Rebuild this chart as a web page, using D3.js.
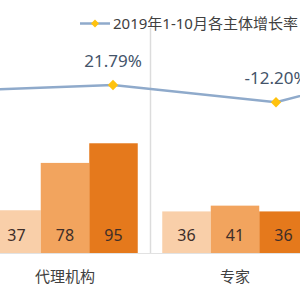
<!DOCTYPE html>
<html><head><meta charset="utf-8">
<script src="https://cdn.jsdelivr.net/npm/d3@7"></script>
<style>html,body{margin:0;padding:0;background:#fff;overflow:hidden}svg{display:block}</style>
</head><body>
<script>
// Data
const categories = ["采购人", "代理机构", "专家", "供应商"];
const series = ["2017年1-10月", "2018年1-10月", "2019年1-10月"];
const barValues = {
  "代理机构": [37, 78, 95],
  "专家": [36, 41, 36]
};
const growthRates = [9.6, 21.79, -12.20, 71.8];
const growthLabels = ["", "21.79%", "-12.20%", ""];
const legendLabel = "2019年1-10月各主体增长率";
const barColors = ["#F9CFA9", "#F2A45E", "#E5791C"];

const W = 300, H = 300;
const svg = d3.select("body").append("svg").attr("width", W).attr("height", H);
const font = "'Noto Sans','Noto Sans CJK SC',sans-serif";

const x = d3.scaleBand().domain(categories).range([-190, 490]).padding(0);
const x1 = d3.scaleBand().domain(series).range([12.25, x.bandwidth() - 12.25]).padding(0);
const y = d3.scaleLinear().domain([0, 100]).range([253, 137.5]);
const xL = d3.scalePoint().domain(categories).range([-50, 439]);
const yL = d3.scaleLinear().domain([-50, 100]).range([121.55, 45.2]);

// separator
svg.append("line").attr("x1", 150.5).attr("x2", 150.5).attr("y1", 28).attr("y2", 253)
  .attr("stroke", "#dcdcdc").attr("stroke-width", 1.5);
// baseline
svg.append("line").attr("x1", 0).attr("x2", W).attr("y1", 253.5).attr("y2", 253.5)
  .attr("stroke", "#e2e2e2").attr("stroke-width", 1);

// bars
const groups = svg.selectAll("g.grp").data(Object.keys(barValues)).join("g")
  .attr("transform", c => `translate(${x(c)},0)`);
groups.selectAll("rect").data(c => barValues[c].map((v, i) => ({ s: series[i], v, i })))
  .join("rect")
  .attr("x", d => x1(d.s)).attr("width", x1.bandwidth())
  .attr("y", d => y(d.v)).attr("height", d => y(0) - y(d.v))
  .attr("fill", d => barColors[d.i]);
groups.selectAll("text").data(c => barValues[c].map((v, i) => ({ s: series[i], v, i })))
  .join("text")
  .attr("x", d => x1(d.s) + x1.bandwidth() / 2).attr("y", 240.7)
  .attr("text-anchor", "middle").attr("font-family", font).attr("font-size", 16)
  .attr("fill", "#3e2e28").text(d => d.v);

// category labels
svg.selectAll("text.cat").data(Object.keys(barValues)).join("text").attr("class", "cat")
  .attr("x", c => x(c) + x.bandwidth() / 2).attr("y", 282)
  .attr("text-anchor", "middle").attr("font-family", font).attr("font-size", 15)
  .attr("fill", "#404040").text(c => c);

// line
const pts = categories.map((c, i) => ({ c, v: growthRates[i], l: growthLabels[i] }));
svg.append("path").datum(pts)
  .attr("d", d3.line().x(d => xL(d.c)).y(d => yL(d.v)))
  .attr("fill", "none").attr("stroke", "#8FAACB").attr("stroke-width", 2.5);
const diamond = (r) => `M0,${-r}L${r},0L0,${r}L${-r},0Z`;
svg.selectAll("path.pt").data(pts).join("path").attr("class", "pt")
  .attr("transform", d => `translate(${xL(d.c)},${yL(d.v)})`)
  .attr("d", diamond(5.2)).attr("fill", "#FFC20E");
svg.selectAll("text.pl").data(pts).join("text").attr("class", "pl")
  .attr("x", d => xL(d.c)).attr("y", d => yL(d.v) - 18)
  .attr("text-anchor", "middle").attr("font-family", font).attr("font-size", 17)
  .attr("fill", "#44546A").text(d => d.l);

// legend
const lg = svg.append("g");
lg.append("line").attr("x1", 80).attr("x2", 110).attr("y1", 23.5).attr("y2", 23.5)
  .attr("stroke", "#8FAACB").attr("stroke-width", 2.5);
lg.append("path").attr("transform", "translate(95,23.5)").attr("d", diamond(4)).attr("fill", "#FFC20E");
lg.append("text").attr("x", 113).attr("y", 29).attr("font-family", font).attr("font-size", 15)
  .attr("fill", "#404040").text(legendLabel);
</script>
</body></html>
